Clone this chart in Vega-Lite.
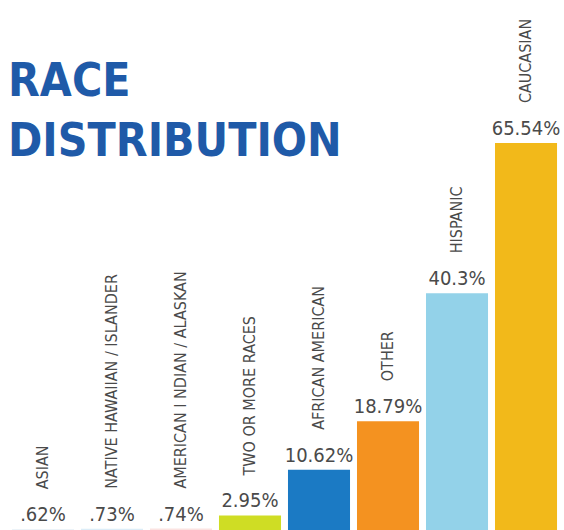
{
  "$schema": "https://vega.github.io/schema/vega-lite/v6.json",
  "autosize": "none",
  "padding": {"left": 5, "top": 0, "right": 0, "bottom": 0},
  "width": 559,
  "height": 533,
  "background": "white",
  "view": {"stroke": null},
  "title": {
    "text": ["RACE", "DISTRIBUTION"],
    "anchor": "start",
    "frame": "group",
    "orient": "top",
    "offset": 0,
    "baseline": "top",
    "dy": 166,
    "dx": 3,
    "font": "DejaVu Sans Condensed",
    "fontSize": 46,
    "fontWeight": "bold",
    "lineHeight": 60,
    "color": "#1f5aa8"
  },
  "data": {
    "values": [
      {"category": "ASIAN", "value": 0.62, "label": ".62%"},
      {"category": "NATIVE HAWAIIAN / ISLANDER", "value": 0.73, "label": ".73%"},
      {"category": "AMERICAN I NDIAN / ALASKAN", "value": 0.74, "label": ".74%"},
      {"category": "TWO OR MORE RACES", "value": 2.95, "label": "2.95%"},
      {"category": "AFRICAN AMERICAN", "value": 10.62, "label": "10.62%"},
      {"category": "OTHER", "value": 18.79, "label": "18.79%"},
      {"category": "HISPANIC", "value": 40.3, "label": "40.3%"},
      {"category": "CAUCASIAN", "value": 65.54, "label": "65.54%"}
    ]
  },
  "encoding": {
    "x": {
      "field": "category",
      "type": "nominal",
      "sort": null,
      "axis": null,
      "scale": {"paddingInner": 0.101, "paddingOuter": 0.101}
    },
    "y": {
      "field": "value",
      "type": "quantitative",
      "axis": null,
      "scale": {"domain": [0, 89.6], "nice": false, "zero": true}
    }
  },
  "layer": [
    {
      "mark": {"type": "bar"},
      "encoding": {
        "color": {
          "field": "category",
          "type": "nominal",
          "legend": null,
          "scale": {
            "domain": ["ASIAN", "NATIVE HAWAIIAN / ISLANDER", "AMERICAN I NDIAN / ALASKAN", "TWO OR MORE RACES", "AFRICAN AMERICAN", "OTHER", "HISPANIC", "CAUCASIAN"],
            "range": ["#e6eff6", "#dcedf8", "#fbe3e1", "#cfdd24", "#1b7ac4", "#f49220", "#93d2e9", "#f2b91a"]
          }
        }
      }
    },
    {
      "mark": {"type": "text", "baseline": "alphabetic", "align": "center", "dy": -8, "font": "DejaVu Sans Condensed", "fontSize": 20, "color": "#4a4a4a"},
      "encoding": {"text": {"field": "label"}}
    },
    {
      "mark": {"type": "text", "angle": 270, "align": "left", "baseline": "middle", "dx": 40, "font": "DejaVu Sans Condensed", "fontSize": 16, "color": "#4a4a4a"},
      "encoding": {"text": {"field": "category"}}
    }
  ]
}
